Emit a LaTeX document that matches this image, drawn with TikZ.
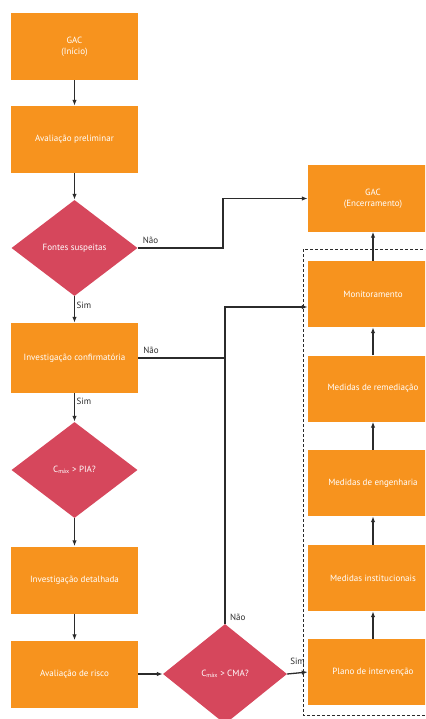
\documentclass[tikz,border=0pt]{standalone}
\usepackage{fontspec}
\setmainfont{PT Sans}
\usetikzlibrary{arrows.meta,positioning,shapes.geometric}
\definecolor{gacorange}{HTML}{F7931E}
\definecolor{gacred}{HTML}{D6475C}
\definecolor{gacline}{HTML}{2B2B2B}
\tikzset{
  box/.style      = {fill=gacorange, text=white, minimum width=127pt, minimum height=67pt,
                     inner sep=2pt, align=center, font=\fontsize{9}{11}\selectfont},
  rbox/.style     = {box, minimum width=130pt, minimum height=66pt},
  decision/.style = {diamond, fill=gacred, text=white, minimum width=126pt, minimum height=96pt,
                     inner sep=0pt, font=\fontsize{9}{11}\selectfont},
  sig/.style      = {-{Latex[length=6pt,width=4.5pt]}, draw=gacline, line width=1.3pt},
  wire/.style     = {draw=gacline, line width=1.3pt},
  lbl/.style      = {font=\fontsize{9}{10}\selectfont, text=gacline, inner sep=1.5pt},
  frame/.style    = {draw=gacline, densely dashed, line width=0.8pt},
}

\begin{document}
\begin{tikzpicture}[x=1pt, y=-1pt]
  \useasboundingbox (0,0) rectangle (425,719);
  \clip (0,0) rectangle (425,719);
  % left column
  \node[box] (ini) at (74.5,46.5) {GAC\\(Início)};
  \node[box] (prel) at (74.5,139.5) {Avaliação preliminar};
  \node[decision] (fontes) at (74.5,248) {Fontes suspeitas};
  \node[box, minimum height=70pt] (conf) at (74.5,358) {Investigação confirmatória};
  \node[decision] (pia) at (74.5,470) {C\textsubscript{máx} > PIA?};
  \node[box] (det) at (74.5,580) {Investigação detalhada};
  \node[box] (risco) at (74.5,674) {Avaliação de risco};
  \node[decision, minimum width=124pt, minimum height=100pt] (cma) at (225,674) {C\textsubscript{máx} > CMA?};
  % right column
  \node[rbox] (fim) at (373,198.5) {GAC\\(Encerramento)};
  \node[rbox] (mon) at (373,294) {Monitoramento};
  \node[rbox] (rem) at (373,388.5) {Medidas de remediação};
  \node[rbox] (eng) at (373,483) {Medidas de engenharia};
  \node[rbox] (inst) at (373,578) {Medidas institucionais};
  \node[rbox] (plano) at (373,672) {Plano de intervenção};
  \draw[frame] (303,249) rectangle (442,715);
  \coordinate (j1) at (223,0);
  % connectors
  \draw[sig] (ini) -- (prel);
  \draw[sig] (prel) -- (fontes);
  \draw[sig] (fontes) -- node[lbl, right, pos=0.35] {Sim} (conf);
  \draw[sig] (conf) -- node[lbl, right, pos=0.3] {Sim} (pia);
  \draw[sig] (pia) -- (det);
  \draw[sig] (det) -- (risco);
  \draw[sig] (risco) -- (cma);
  \draw[sig] (fontes.east) node[lbl, anchor=south west, xshift=3pt, yshift=2pt] {Não}
    -- (fontes.east -| j1) |- (fim.west);
  \draw[wire] (conf.east) node[lbl, anchor=south west, xshift=3pt, yshift=2pt] {Não}
    -- (conf.east -| cma.north);
  \draw[sig] (cma.north) node[lbl, anchor=south west, xshift=3pt, yshift=1pt] {Não}
    |- ([yshift=-13pt]mon.west);
  \draw[sig] (cma.east) -- node[lbl, above, yshift=6pt] {Sim} (plano.west);
  \draw[sig] (plano) -- (inst);
  \draw[sig] (inst) -- (eng);
  \draw[sig] (eng) -- (rem);
  \draw[sig] (rem) -- (mon);
  \draw[sig] (mon) -- (fim);
\end{tikzpicture}
\end{document}
